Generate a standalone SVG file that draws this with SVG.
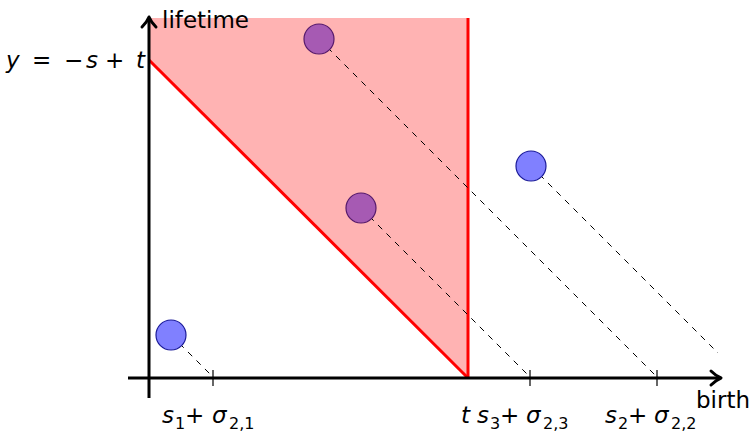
<svg xmlns="http://www.w3.org/2000/svg" width="752" height="436" viewBox="0 0 752 436">
<defs>
<style>
.ax{stroke:#000;stroke-width:3;fill:none}
.head{stroke:#000;stroke-width:3;fill:none;stroke-linecap:round;stroke-linejoin:round}
.tick{stroke:#000;stroke-width:1.2}
.red{stroke:#ff0000;stroke-width:3;fill:none}
.dash{stroke:#000;stroke-width:1;stroke-dasharray:6,6;fill:none}
.blue{fill:#8080ff;stroke:#1a1a99;stroke-width:1.2}
.purp{fill:#a65ab3;stroke:#55196b;stroke-width:1.2}
text{font-family:"DejaVu Sans","Liberation Sans",sans-serif;font-size:23px;fill:#000}
.it{font-style:italic}
.sub{font-size:16px}
</style>
</defs>
<rect width="752" height="436" fill="#fff"/>
<g id="region">
<polygon points="149,18 468,18 468,378 149,60" fill="#ffb3b3"/>
<line class="red" x1="149" y1="60" x2="468" y2="378"/>
<line class="red" x1="468" y1="18" x2="468" y2="378"/>
</g>
<g id="connectors">
<line class="dash" x1="171" y1="335" x2="214" y2="378"/>
<line class="dash" x1="319" y1="39" x2="658" y2="378"/>
<line class="dash" x1="361" y1="208" x2="531" y2="378"/>
<line class="dash" x1="531" y1="166" x2="718" y2="353"/>
</g>
<g id="axes">
<line class="ax" x1="128" y1="378" x2="720" y2="378"/>
<path class="head" d="M711,371 Q716,376 721,378 Q716,380 711,385"/>
<line class="ax" x1="149" y1="398" x2="149" y2="20"/>
<path class="head" d="M142,27 Q147,22 149,17 Q151,22 156,27"/>
<line class="tick" x1="213" y1="370" x2="213" y2="386"/>
<line class="tick" x1="530" y1="370" x2="530" y2="386"/>
<line class="tick" x1="657" y1="370" x2="657" y2="386"/>
</g>
<g id="p1"><circle class="blue" cx="171" cy="335" r="15"/></g>
<g id="p2"><circle class="purp" cx="319" cy="39" r="15"/></g>
<g id="p3"><circle class="purp" cx="361" cy="208" r="15"/></g>
<g id="p4"><circle class="blue" cx="531" cy="166" r="15"/></g>
<g id="labels">
<text x="162" y="28">lifetime</text>
<text y="68"><tspan class="it" x="6">y</tspan><tspan x="32">=</tspan><tspan x="64">−</tspan><tspan class="it" x="86">s</tspan><tspan x="105">+</tspan><tspan class="it" x="136">t</tspan></text>
<text x="750" y="408" text-anchor="end">birth</text>
<text y="423"><tspan class="it" x="162">s</tspan><tspan class="sub" x="175" dy="6">1</tspan><tspan x="185" dy="-6">+</tspan><tspan class="it" x="212">σ</tspan><tspan class="sub" x="229" dy="6">2,1</tspan></text>
<text x="461" y="423" class="it">t</text>
<text y="423"><tspan class="it" x="477">s</tspan><tspan class="sub" x="490" dy="6">3</tspan><tspan x="500" dy="-6">+</tspan><tspan class="it" x="526">σ</tspan><tspan class="sub" x="543" dy="6">2,3</tspan></text>
<text y="423"><tspan class="it" x="605">s</tspan><tspan class="sub" x="618" dy="6">2</tspan><tspan x="628" dy="-6">+</tspan><tspan class="it" x="654">σ</tspan><tspan class="sub" x="671" dy="6">2,2</tspan></text>
</g>
</svg>
